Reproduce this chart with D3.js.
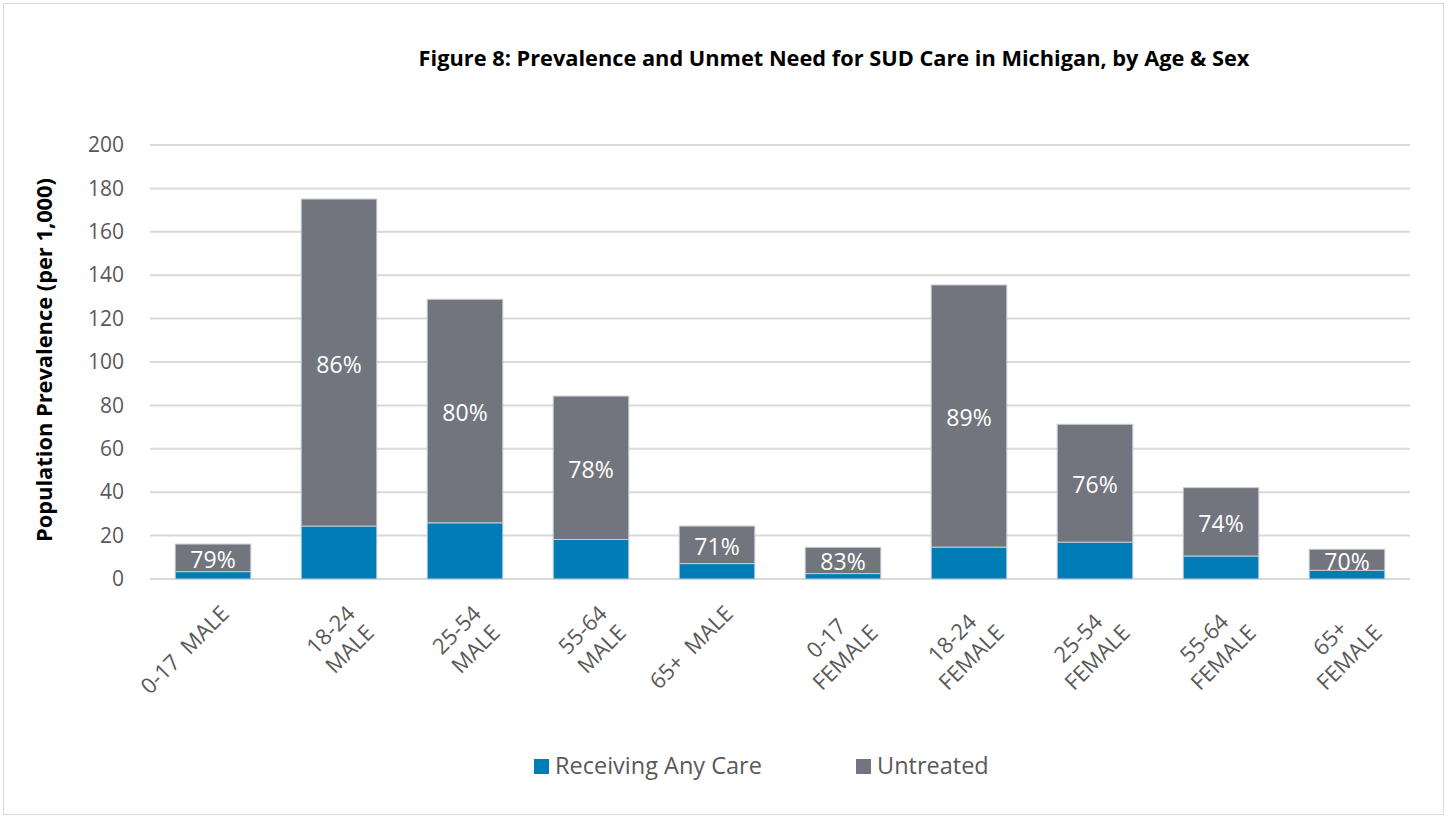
<!DOCTYPE html>
<html lang="en">
<head>
  <meta charset="utf-8">
  <title>Figure 8</title>
  <script src="https://d3js.org/d3.v7.min.js" charset="utf-8"></script>
  <style type="text/css">
    body { margin: 0; background: #fff; }
    text { font-family: "Open Sans", sans-serif; }
  </style>
</head>
<body>
  <svg id="chart" width="1448" height="818" xmlns="http://www.w3.org/2000/svg"></svg>
  <script type="text/javascript">
    // data
    var categories = ['0-17  MALE', '18-24|MALE', '25-54|MALE', '55-64|MALE', '65+  MALE',
      '0-17|FEMALE', '18-24|FEMALE', '25-54|FEMALE', '55-64|FEMALE', '65+|FEMALE'];
    var receiving = [3.4, 24.4, 25.9, 18.2, 7.1, 2.5, 14.7, 17.0, 10.6, 4.0];
    var untreated = [12.7, 150.7, 103.0, 66.1, 17.3, 12.1, 120.8, 54.3, 31.5, 9.7];
    var untreatedPct = [79, 86, 80, 78, 71, 83, 89, 76, 74, 70];
    var yTicks = [0, 20, 40, 60, 80, 100, 120, 140, 160, 180, 200];
    var seriesNames = ['Receiving Any Care', 'Untreated'];
    var seriesColors = ['#007CB7', '#73757E'];

    var svg = d3.select('#chart');

    svg.append('rect')
      .attr('x', 3.5).attr('y', 3.5)
      .attr('width', 1440).attr('height', 811)
      .style('fill', '#fff')
      .style('stroke', '#d9d9d9');

    var x = d3.scaleBand()
      .domain(categories)
      .range([150, 1410])
      .paddingInner(0.4)
      .paddingOuter(0.2);

    var y = d3.scaleLinear()
      .domain([0, 200])
      .range([579, 145]);

    // gridlines
    svg.append('g')
      .selectAll('line')
      .data(yTicks)
      .enter()
      .append('line')
      .attr('x1', 150).attr('x2', 1410)
      .attr('y1', function(d) { return y(d); })
      .attr('y2', function(d) { return y(d); })
      .style('stroke', '#d9d9d9')
      .style('stroke-width', 2);

    // y axis labels
    var yAxis = d3.axisLeft(y).tickValues(yTicks).tickSize(0).tickPadding(0);
    var yg = svg.append('g').attr('transform', 'translate(124,0)').call(yAxis);
    yg.select('.domain').remove();
    yg.selectAll('text')
      .style('font-family', '"Open Sans", sans-serif')
      .style('font-size', '21px')
      .style('fill', '#595959');

    // stacked bars
    var rows = categories.map(function(c, i) {
      return { cat: c, receiving: receiving[i], untreated: untreated[i], pct: untreatedPct[i] };
    });
    var stack = d3.stack().keys(['receiving', 'untreated'])(rows);

    svg.append('g')
      .selectAll('g')
      .data(stack)
      .enter()
      .append('g')
      .style('fill', function(d, i) { return seriesColors[i]; })
      .selectAll('rect')
      .data(function(d) { return d; })
      .enter()
      .append('rect')
      .attr('x', function(d) { return x(d.data.cat); })
      .attr('width', x.bandwidth())
      .attr('y', function(d) { return y(d[1]); })
      .attr('height', function(d) { return y(d[0]) - y(d[1]); })
      .style('stroke', '#c9ccd2')
      .style('stroke-width', 1);

    // percent labels in the untreated segment
    svg.append('g')
      .selectAll('text')
      .data(stack[1])
      .enter()
      .append('text')
      .attr('x', function(d) { return x(d.data.cat) + x.bandwidth() / 2; })
      .attr('y', function(d) { return (y(d[0]) + y(d[1])) / 2 + 1; })
      .attr('text-anchor', 'middle')
      .attr('dominant-baseline', 'central')
      .style('font-size', '23px')
      .style('fill', '#ffffff')
      .text(function(d) { return d.data.pct + '%'; });

    // rotated category labels
    var lineH = 27;
    var xl = svg.append('g')
      .selectAll('g')
      .data(categories)
      .enter()
      .append('g')
      .attr('transform', function(d) {
        return 'translate(' + (x(d) + x.bandwidth() / 2 - 11) + ',608) rotate(-45) translate(15,0)';
      });
    xl.each(function(d) {
      var g = d3.select(this);
      var lines = d.split('|');
      var texts = lines.map(function(l, i) {
        return g.append('text')
          .attr('y', i * lineH + 25)
          .attr('text-anchor', 'middle')
          .style('white-space', 'pre')
          .style('font-size', '22px')
          .style('fill', '#595959')
          .text(l);
      });
      var w = d3.max(texts, function(t) { return t.node().getComputedTextLength(); });
      texts.forEach(function(t) { t.attr('x', -w / 2); });
    });

    // y axis title
    var yTitle = svg.append('text')
      .attr('transform', 'translate(52,360) rotate(-90)')
      .attr('text-anchor', 'middle')
      .style('font-size', '20px')
      .style('font-weight', 700)
      .style('fill', '#000')
      .text('Population Prevalence (per 1,000)');
    var yw = yTitle.node().getComputedTextLength();
    yTitle.style('font-size', (20 * 364 / yw) + 'px');

    // title
    var title = svg.append('text')
      .attr('x', 834)
      .attr('y', 66)
      .attr('text-anchor', 'middle')
      .style('font-size', '22px')
      .style('font-weight', 700)
      .style('fill', '#000')
      .text('Figure 8: Prevalence and Unmet Need for SUD Care in Michigan, by Age & Sex');
    var tw = title.node().getComputedTextLength();
    title.style('font-size', (22 * 831 / tw) + 'px');

    // legend
    var legendX = [534, 856];
    var lg = svg.append('g')
      .selectAll('g')
      .data(seriesNames)
      .enter()
      .append('g')
      .attr('transform', function(d, i) { return 'translate(' + legendX[i] + ',759)'; });
    lg.append('rect')
      .attr('width', 15).attr('height', 15)
      .style('fill', function(d, i) { return seriesColors[i]; });
    lg.append('text')
      .attr('x', 21)
      .attr('y', 15)
      .style('font-size', '23.5px')
      .style('fill', '#595959')
      .text(function(d) { return d; });
  </script>
</body>
</html>
